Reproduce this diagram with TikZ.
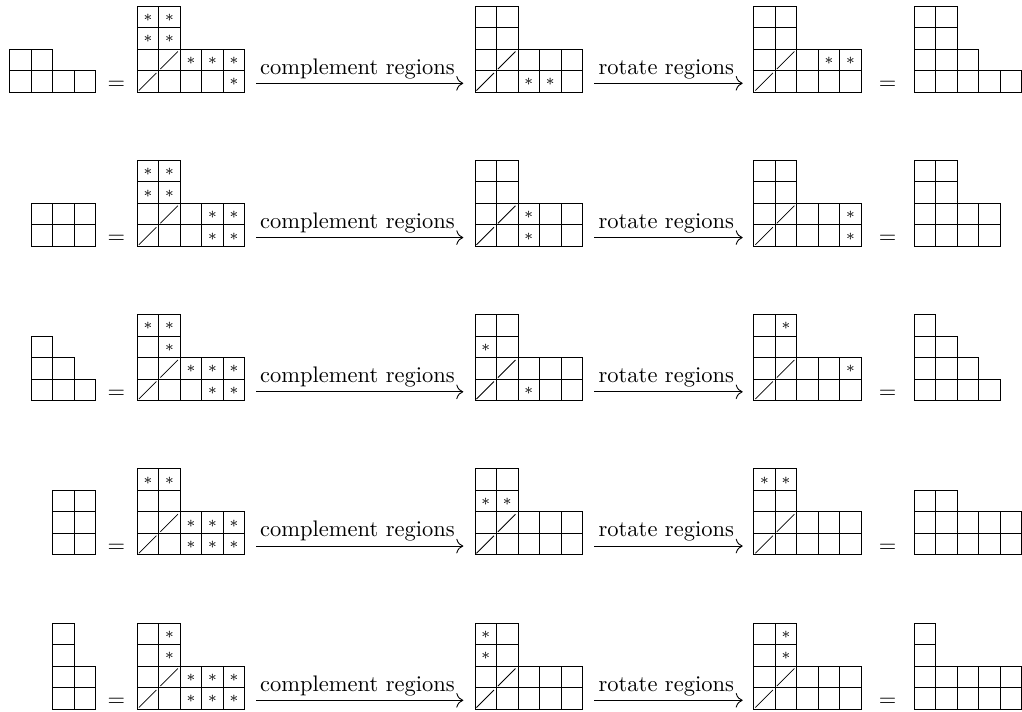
\documentclass[tikz,border=0pt]{standalone}
\usetikzlibrary{arrows.meta}
\tikzset{
  cell/.style={draw=black, line width=0.4pt},
  slashln/.style={line width=0.35pt},
  astnode/.style={inner sep=0pt, outer sep=0pt},
  lbl/.style={anchor=base, inner sep=0pt},
  eqsign/.style={anchor=base, inner sep=0pt},
  arr/.style={-{Computer Modern Rightarrow[scale=1.25]}, line width=0.4pt},
}
% #1 id, #2 left x, #3 bottom y, #4 rows (bottom first)
\newcommand\Ydiag[4]{%
  \foreach \row [count=\rr from 0] in {#4} {
    \foreach \cc [count=\kk from 0] in \row {
      \draw[cell] ({#2+21.5*\kk},{#3-21.5*\rr}) rectangle ++(21.5,-21.5);
      \if s\cc \draw[slashln] ({#2+21.5*\kk+1.5},{#3-21.5*\rr-1.5}) -- ++(17.5,-17.5);\fi
      \if a\cc \node[astnode] (#1-\rr-\kk) at ({#2+21.5*\kk+10.75},{#3-21.5*\rr-9.9}) {$\scriptstyle\ast$};\fi
    }
  }
}
% #1 row id, #2 bottom y, #3 left x0, #4 left rows, #5 D2, #6 D3, #7 D4, #8 final rows
\newcommand\Yrow[8]{%
  \Ydiag{L#1}{#3}{#2}{#4}
  \node[eqsign] (eqa#1) at (116.3,{#2-2.5}) {$=$};
  \Ydiag{A#1}{137.3}{#2}{#5}
  \coordinate (ca#1) at (256,{#2-8.7});
  \coordinate (cb#1) at (463.3,{#2-8.7});
  \draw[arr] (ca#1) -- (cb#1);
  \node[lbl] (la#1) at (357.5,{#2-18}) {complement regions};
  \Ydiag{B#1}{475}{#2}{#6}
  \coordinate (cc#1) at (594,{#2-8.7});
  \coordinate (cd#1) at (742.7,{#2-8.7});
  \draw[arr] (cc#1) -- (cd#1);
  \node[lbl] (lb#1) at (666.3,{#2-18}) {rotate regions};
  \Ydiag{C#1}{753.8}{#2}{#7}
  \node[eqsign] (eqb#1) at (887.5,{#2-2.5}) {$=$};
  \Ydiag{F#1}{914}{#2}{#8}
}
\begin{document}
\begin{tikzpicture}[x=0.4444pt,y=-0.4444pt]
\useasboundingbox (0,0) rectangle (1022,711);
\Yrow{1}{92}{9.7}{{o,o,o,o},{o,o}}
  {{s,o,o,o,a},{o,s,a,a,a},{a,a},{a,a}}
  {{s,o,a,a,o},{o,s,o,o,o},{o,o},{o,o}}
  {{s,o,o,o,o},{o,s,o,a,a},{o,o},{o,o}}
  {{o,o,o,o,o},{o,o,o},{o,o},{o,o}}
\Yrow{2}{246.25}{31.2}{{o,o,o},{o,o,o}}
  {{s,o,o,a,a},{o,s,o,a,a},{a,a},{a,a}}
  {{s,o,a,o,o},{o,s,a,o,o},{o,o},{o,o}}
  {{s,o,o,o,a},{o,s,o,o,a},{o,o},{o,o}}
  {{o,o,o,o},{o,o,o,o},{o,o},{o,o}}
\Yrow{3}{400.5}{31.2}{{o,o,o},{o,o},{o}}
  {{s,o,o,a,a},{o,s,a,a,a},{o,a},{a,a}}
  {{s,o,a,o,o},{o,s,o,o,o},{a,o},{o,o}}
  {{s,o,o,o,o},{o,s,o,o,a},{o,o},{o,a}}
  {{o,o,o,o},{o,o,o},{o,o},{o}}
\Yrow{4}{554.75}{52.7}{{o,o},{o,o},{o,o}}
  {{s,o,a,a,a},{o,s,a,a,a},{o,o},{a,a}}
  {{s,o,o,o,o},{o,s,o,o,o},{a,a},{o,o}}
  {{s,o,o,o,o},{o,s,o,o,o},{o,o},{a,a}}
  {{o,o,o,o,o},{o,o,o,o,o},{o,o}}
\Yrow{5}{709}{52.7}{{o,o},{o,o},{o},{o}}
  {{s,o,a,a,a},{o,s,a,a,a},{o,a},{o,a}}
  {{s,o,o,o,o},{o,s,o,o,o},{a,o},{a,o}}
  {{s,o,o,o,o},{o,s,o,o,o},{o,a},{o,a}}
  {{o,o,o,o,o},{o,o,o,o,o},{o},{o}}
\end{tikzpicture}
\end{document}
